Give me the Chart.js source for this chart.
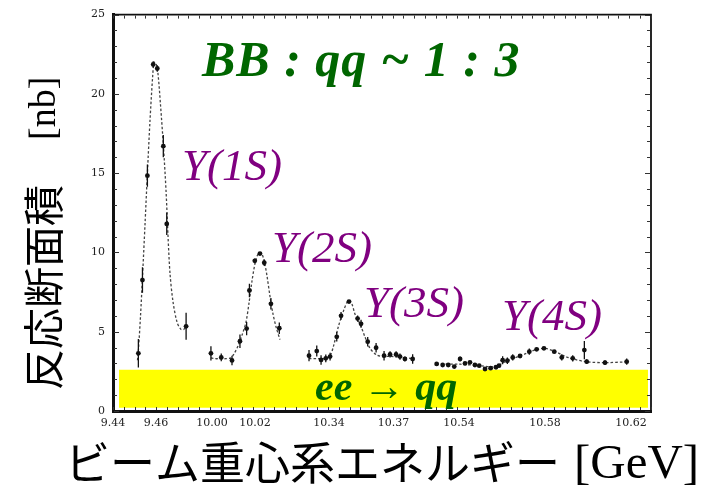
<!DOCTYPE html>
<html>
<head>
<meta charset="utf-8">
<script src="https://cdn.jsdelivr.net/npm/chart.js@4.4.1/dist/chart.umd.min.js"></script>
<style>
  html, body { margin: 0; padding: 0; background: #fff; overflow: hidden; }
  canvas { display: block; }
</style>
</head>
<body>
<canvas id="c" width="711" height="489"></canvas>
<script>
// ---- Υ resonance scans: beam energy [GeV], cross section [nb], error [nb] ----
const energy1S = [9.4518, 9.4537, 9.4560, 9.4587, 9.4606, 9.4634, 9.4650, 9.4740];
const sigma1S  = [3.64, 8.26, 14.84, 21.86, 21.60, 16.70, 11.80, 5.34];
const err1S    = [0.9, 0.8, 0.7, 0.2, 0.2, 0.7, 0.7, 0.85];

const energy2S = [9.9995, 10.0043, 10.0093, 10.0130, 10.0161, 10.0174, 10.0199, 10.0223, 10.0243, 10.0274, 10.0313];
const sigma2S  = [3.64, 3.38, 3.19, 4.40, 5.20, 7.60, 9.47, 9.93, 9.35, 6.76, 5.22];
const err2S    = [0.45, 0.25, 0.3, 0.42, 0.42, 0.42, 0.15, 0.1, 0.2, 0.36, 0.36];

const energy3S = [10.3307, 10.3343, 10.3363, 10.3385, 10.3405, 10.3436, 10.3456, 10.3493, 10.3533, 10.3549,
                  10.3580, 10.3619, 10.3656, 10.3684, 10.3712, 10.3730, 10.3753, 10.3789];
const sigma3S  = [3.49, 3.78, 3.22, 3.32, 3.43, 4.68, 6.00, 6.90, 5.83, 5.50, 4.37, 3.99, 3.49, 3.57, 3.57, 3.43, 3.28, 3.28];
const err3S    = [0.35, 0.35, 0.3, 0.25, 0.25, 0.3, 0.25, 0.1, 0.2, 0.25, 0.3, 0.3, 0.3, 0.2, 0.2, 0.2, 0.15, 0.3];

const energy4S = [10.5296, 10.5324, 10.5350, 10.5378, 10.5405, 10.5428, 10.5451, 10.5474, 10.5494, 10.5521,
                  10.5547, 10.5572, 10.5586, 10.5603, 10.5625, 10.5650, 10.5684, 10.5727, 10.5761, 10.5795,
                  10.5843, 10.5878, 10.5929, 10.5983, 10.5994, 10.6079, 10.6180];
const sigma4S  = [2.97, 2.90, 2.90, 2.80, 3.28, 3.00, 3.07, 2.90, 2.86, 2.65, 2.70, 2.76, 2.86, 3.20, 3.17, 3.38,
                  3.47, 3.74, 3.89, 3.95, 3.74, 3.38, 3.32, 3.84, 3.11, 3.05, 3.11];
const err4S    = [0.1, 0.1, 0.1, 0.1, 0.15, 0.1, 0.1, 0.1, 0.1, 0.1, 0.1, 0.1, 0.1, 0.25, 0.2, 0.2, 0.1, 0.2,
                  0.1, 0.1, 0.1, 0.2, 0.2, 0.57, 0.15, 0.15, 0.2];

// ---- fitted line shapes (dashed) ----
const fitE1S = [9.4514, 9.4519, 9.4528, 9.4537, 9.4549, 9.4560, 9.4572, 9.4584, 9.4591, 9.4600, 9.4609,
                9.4621, 9.4635, 9.4647, 9.4656, 9.4665, 9.4679, 9.4698, 9.4716, 9.4730, 9.4740];
const fitS1S = [3.2, 4.0, 6.0, 8.4, 11.8, 15.0, 18.3, 21.0, 22.0, 21.9, 21.3, 19.3, 16.6, 13.8, 11.0, 8.7,
                6.9, 5.6, 5.15, 5.15, 5.4];
const fitE2S = [9.9995, 10.0014, 10.0037, 10.0065, 10.0088, 10.0102, 10.0121, 10.0140, 10.0158, 10.0172,
                10.0186, 10.0200, 10.0214, 10.0228, 10.0242, 10.0256, 10.0270, 10.0284, 10.0298, 10.0316];
const fitS2S = [3.35, 3.3, 3.3, 3.3, 3.35, 3.6, 4.1, 4.8, 5.6, 6.8, 8.2, 9.3, 9.9, 10.0, 9.5, 8.5, 7.2, 6.1, 5.3, 4.5];
const fitE3S = [10.3307, 10.3349, 10.3381, 10.3405, 10.3420, 10.3443, 10.3467, 10.3490, 10.3506, 10.3521,
                10.3544, 10.3567, 10.3591, 10.3622, 10.3653, 10.3684, 10.3730, 10.3789];
const fitS3S = [3.3, 3.3, 3.3, 3.5, 4.05, 5.3, 6.3, 6.97, 6.76, 6.1, 5.5, 4.68, 3.95, 3.53, 3.43, 3.45, 3.4, 3.3];
const fitE4S = [10.5296, 10.5405, 10.5498, 10.5567, 10.5614, 10.5660, 10.5707, 10.5754, 10.5800, 10.5847,
                10.5893, 10.5940, 10.5994, 10.6079, 10.6180];
const fitS4S = [2.95, 2.95, 2.85, 2.8, 3.1, 3.35, 3.6, 3.85, 3.95, 3.75, 3.45, 3.25, 3.1, 3.05, 3.1];

// ---- continuum e+e- -> qq level ----
const qqBandEnergy = [9.4428, 10.6279];
const qqBandSigma  = [0.2, 2.6];

// ---- axis labels ----
const xTickLabels = ['9.44', '9.46', '10.00', '10.02', '10.34', '10.37', '10.54', '10.58', '10.62'];
const yTickValues = [0, 5, 10, 15, 20, 25];

// The energy axis is broken into four scan windows placed side by side:
// every window is shifted left by its own offset.
const axisWindows = [
  { from: 9.40,  shift: 0 },
  { from: 9.80,  shift: 0.51395 },
  { from: 10.20, shift: 0.79953 },
  { from: 10.45, shift: 0.93907 },
];
function toAxis(e) {
  let s = 0;
  for (const w of axisWindows) if (e >= w.from) s = w.shift;
  return e - s;
}
const X_MIN = 9.44, X_MAX = 9.69023;

const pts = (es, ss) => es.map((e, i) => ({ x: toAxis(e), y: ss[i] }));
function errorBars(es, ss, errs) {
  const out = [];
  es.forEach((e, i) => {
    out.push({ x: toAxis(e), y: ss[i] - errs[i] });
    out.push({ x: toAxis(e), y: ss[i] + errs[i] });
    out.push({ x: toAxis(e), y: null });
  });
  return out;
}

const allE = [...energy1S, ...energy2S, ...energy3S, ...energy4S];
const allS = [...sigma1S, ...sigma2S, ...sigma3S, ...sigma4S];
const allErr = [...err1S, ...err2S, ...err3S, ...err4S];

const fitStyle = {
  type: 'line', borderColor: '#444', borderWidth: 1.3, borderDash: [2.5, 2],
  pointRadius: 0, fill: false, tension: 0.3, order: 5
};

const datasets = [
  {
    label: 'qq',
    type: 'line',
    data: [{ x: toAxis(qqBandEnergy[0]), y: qqBandSigma[1] }, { x: toAxis(qqBandEnergy[1]), y: qqBandSigma[1] }],
    borderWidth: 0, pointRadius: 0, backgroundColor: '#ffff00',
    fill: { value: qqBandSigma[0] }, order: 10
  },
  { ...fitStyle, label: 'fit1S', data: pts(fitE1S, fitS1S) },
  { ...fitStyle, label: 'fit2S', data: pts(fitE2S, fitS2S) },
  { ...fitStyle, label: 'fit3S', data: pts(fitE3S, fitS3S) },
  { ...fitStyle, label: 'fit4S', data: pts(fitE4S, fitS4S) },
  {
    label: 'errors', type: 'line', data: errorBars(allE, allS, allErr),
    borderColor: '#111', borderWidth: 1.3, pointRadius: 0, spanGaps: false, fill: false, order: 3
  },
  {
    label: 'data', type: 'scatter', data: pts(allE, allS),
    backgroundColor: '#111', borderColor: '#111', pointRadius: 2.4, borderWidth: 0, order: 1
  }
];

const SERIF = "'Liberation Serif', 'Times New Roman', serif";
const CJK = "'Noto Sans CJK JP', 'Noto Sans CJK SC', sans-serif";

// thin top/right frame and inward tick marks
const framePlugin = {
  id: 'frame',
  afterDatasetsDraw(chart) {
    const { ctx, chartArea: a, scales } = chart;
    ctx.save();
    ctx.strokeStyle = '#111';
    ctx.lineWidth = 1.8;
    ctx.beginPath();
    ctx.moveTo(a.left, a.top); ctx.lineTo(a.right, a.top); ctx.lineTo(a.right, a.bottom);
    ctx.stroke();
    ctx.lineWidth = 1;
    ctx.strokeStyle = '#333';
    ctx.beginPath();
    for (let v = X_MIN; v <= X_MAX + 1e-9; v += 0.005) {
      const px = Math.round(scales.x.getPixelForValue(v)) + 0.5;
      ctx.moveTo(px, a.bottom - 1); ctx.lineTo(px, a.bottom - 4);
      ctx.moveTo(px, a.top + 1); ctx.lineTo(px, a.top + 4);
    }
    for (let v = 0; v <= 25; v += 1) {
      const py = Math.round(scales.y.getPixelForValue(v)) + 0.5;
      const len = v % 5 === 0 ? 5 : 3;
      ctx.moveTo(a.left + 1, py); ctx.lineTo(a.left + 1 + len, py);
      ctx.moveTo(a.right - 1, py); ctx.lineTo(a.right - 1 - len, py);
    }
    ctx.stroke();
    ctx.restore();
  }
};

// axis titles and annotations
const textPlugin = {
  id: 'texts',
  afterDraw(chart) {
    const ctx = chart.ctx;
    ctx.save();
    ctx.textBaseline = 'alphabetic';
    ctx.textAlign = 'left';

    // annotations
    ctx.fillStyle = '#006600';
    ctx.font = `bold italic 50px ${SERIF}`;
    ctx.letterSpacing = '1px';
    ctx.fillText('BB : qq ~ 1 : 3', 202, 76);
    ctx.letterSpacing = '0px';
    ctx.font = `bold italic 42px ${SERIF}`;
    ctx.fillText('ee \u2192 qq', 315, 400);

    ctx.fillStyle = '#800080';
    ctx.font = `italic 45px ${SERIF}`;
    ctx.fillText('Y(1S)', 182, 180);
    ctx.fillText('Y(2S)', 272, 262);
    ctx.fillText('Y(3S)', 364, 317);
    ctx.fillText('Y(4S)', 502, 330);

    // x title
    ctx.fillStyle = '#000';
    ctx.textBaseline = 'middle';
    ctx.font = `45px ${CJK}`;
    ctx.fillText('ビーム重心系エネルギー', 65, 463);
    ctx.font = `49px ${SERIF}`;
    ctx.fillText('[GeV]', 574, 465);

    // y title
    ctx.save();
    ctx.translate(43, 390);
    ctx.rotate(-Math.PI / 2);
    ctx.font = `41px ${CJK}`;
    ctx.fillText('反応断面積', 0, 0);
    ctx.font = `38px ${SERIF}`;
    ctx.fillText('[nb]', 250, 2);
    ctx.restore();

    ctx.restore();
  }
};

new Chart(document.getElementById('c'), {
  type: 'scatter',
  data: { datasets },
  options: {
    responsive: false,
    animation: false,
    devicePixelRatio: 1,
    layout: { padding: { left: 0, top: 12, right: 60, bottom: 0 } },
    plugins: { legend: { display: false }, tooltip: { enabled: false } },
    scales: {
      x: {
        type: 'linear', min: X_MIN, max: X_MAX,
        afterBuildTicks(scale) {
          scale.ticks = xTickLabels.map(s => ({ value: toAxis(parseFloat(s)) }));
        },
        afterFit(scale) { scale.height = 78; },
        ticks: {
          autoSkip: false, maxRotation: 0, padding: 6, color: '#222',
          font: { family: "'DejaVu Serif', serif", size: 11 },
          callback: (v, i) => xTickLabels[i]
        },
        grid: { display: true, drawOnChartArea: false, drawTicks: false },
        border: { display: true, color: '#111', width: 3 }
      },
      y: {
        type: 'linear', min: 0, max: 25,
        afterBuildTicks(scale) {
          scale.ticks = yTickValues.map(v => ({ value: v }));
        },
        afterFit(scale) { scale.width = 113; },
        ticks: {
          padding: 8, color: '#222',
          font: { family: "'DejaVu Serif', serif", size: 11 }
        },
        grid: { display: true, drawOnChartArea: false, drawTicks: false },
        border: { display: true, color: '#111', width: 3 }
      }
    }
  },
  plugins: [framePlugin, textPlugin]
});
</script>
</body>
</html>
